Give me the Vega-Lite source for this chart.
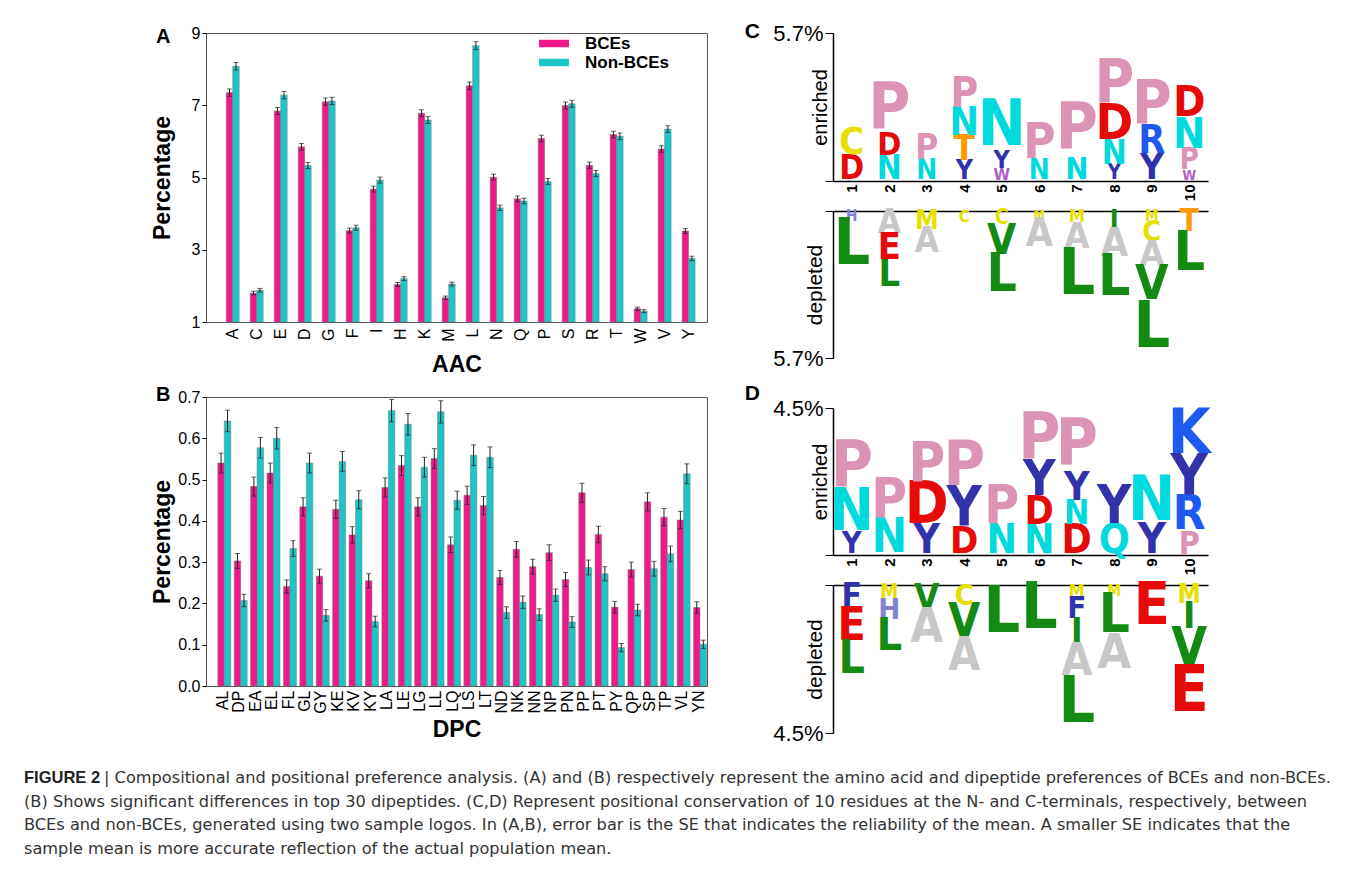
{
  "$schema": "https://vega.github.io/schema/vega-lite/v6.json",
  "background": "white",
  "padding": {"left": 24, "top": 21, "right": 0, "bottom": 0},
  "config": {
    "font": "Liberation Sans",
    "view": {"stroke": null},
    "axis": {"labelColor": "#000", "titleColor": "#000", "domainColor": "#000", "tickColor": "#000", "labelFont": "Liberation Sans", "titleFont": "Liberation Sans", "grid": false},
    "title": {"color": "#000", "font": "Liberation Sans"}
  },
  "datasets": {
    "aac": [
      {"aa":"A","group":"BCEs","v":7.35,"se":0.10},{"aa":"A","group":"Non-BCEs","v":8.08,"se":0.105},
      {"aa":"C","group":"BCEs","v":1.80,"se":0.05},{"aa":"C","group":"Non-BCEs","v":1.88,"se":0.05},
      {"aa":"E","group":"BCEs","v":6.84,"se":0.097},{"aa":"E","group":"Non-BCEs","v":7.28,"se":0.10},
      {"aa":"D","group":"BCEs","v":5.85,"se":0.09},{"aa":"D","group":"Non-BCEs","v":5.33,"se":0.085},
      {"aa":"G","group":"BCEs","v":7.10,"se":0.099},{"aa":"G","group":"Non-BCEs","v":7.12,"se":0.099},
      {"aa":"F","group":"BCEs","v":3.53,"se":0.07},{"aa":"F","group":"Non-BCEs","v":3.61,"se":0.07},
      {"aa":"I","group":"BCEs","v":4.68,"se":0.08},{"aa":"I","group":"Non-BCEs","v":4.93,"se":0.082},
      {"aa":"H","group":"BCEs","v":2.04,"se":0.053},{"aa":"H","group":"Non-BCEs","v":2.20,"se":0.055},
      {"aa":"K","group":"BCEs","v":6.78,"se":0.096},{"aa":"K","group":"Non-BCEs","v":6.59,"se":0.095},
      {"aa":"M","group":"BCEs","v":1.67,"se":0.048},{"aa":"M","group":"Non-BCEs","v":2.05,"se":0.053},
      {"aa":"L","group":"BCEs","v":7.54,"se":0.10},{"aa":"L","group":"Non-BCEs","v":8.65,"se":0.109},
      {"aa":"N","group":"BCEs","v":5.01,"se":0.083},{"aa":"N","group":"Non-BCEs","v":4.16,"se":0.075},
      {"aa":"Q","group":"BCEs","v":4.41,"se":0.078},{"aa":"Q","group":"Non-BCEs","v":4.35,"se":0.077},
      {"aa":"P","group":"BCEs","v":6.08,"se":0.091},{"aa":"P","group":"Non-BCEs","v":4.89,"se":0.082},
      {"aa":"S","group":"BCEs","v":6.99,"se":0.098},{"aa":"S","group":"Non-BCEs","v":7.04,"se":0.098},
      {"aa":"R","group":"BCEs","v":5.34,"se":0.085},{"aa":"R","group":"Non-BCEs","v":5.11,"se":0.084},
      {"aa":"T","group":"BCEs","v":6.19,"se":0.092},{"aa":"T","group":"Non-BCEs","v":6.14,"se":0.092},
      {"aa":"W","group":"BCEs","v":1.37,"se":0.043},{"aa":"W","group":"Non-BCEs","v":1.30,"se":0.042},
      {"aa":"V","group":"BCEs","v":5.79,"se":0.089},{"aa":"V","group":"Non-BCEs","v":6.34,"se":0.093},
      {"aa":"Y","group":"BCEs","v":3.52,"se":0.069},{"aa":"Y","group":"Non-BCEs","v":2.76,"se":0.061}
    ],
    "dpc": [
      {"dp":"AL","group":"BCEs","v":0.540,"se":0.024},{"dp":"AL","group":"Non-BCEs","v":0.642,"se":0.026},
      {"dp":"DP","group":"BCEs","v":0.303,"se":0.018},{"dp":"DP","group":"Non-BCEs","v":0.207,"se":0.015},
      {"dp":"EA","group":"BCEs","v":0.483,"se":0.023},{"dp":"EA","group":"Non-BCEs","v":0.577,"se":0.025},
      {"dp":"EL","group":"BCEs","v":0.516,"se":0.024},{"dp":"EL","group":"Non-BCEs","v":0.600,"se":0.026},
      {"dp":"FL","group":"BCEs","v":0.241,"se":0.016},{"dp":"FL","group":"Non-BCEs","v":0.333,"se":0.019},
      {"dp":"GL","group":"BCEs","v":0.434,"se":0.022},{"dp":"GL","group":"Non-BCEs","v":0.540,"se":0.024},
      {"dp":"GY","group":"BCEs","v":0.266,"se":0.017},{"dp":"GY","group":"Non-BCEs","v":0.171,"se":0.014},
      {"dp":"KE","group":"BCEs","v":0.428,"se":0.022},{"dp":"KE","group":"Non-BCEs","v":0.544,"se":0.024},
      {"dp":"KV","group":"BCEs","v":0.366,"se":0.020},{"dp":"KV","group":"Non-BCEs","v":0.451,"se":0.022},
      {"dp":"KY","group":"BCEs","v":0.255,"se":0.017},{"dp":"KY","group":"Non-BCEs","v":0.156,"se":0.013},
      {"dp":"LA","group":"BCEs","v":0.481,"se":0.023},{"dp":"LA","group":"Non-BCEs","v":0.667,"se":0.027},
      {"dp":"LE","group":"BCEs","v":0.534,"se":0.024},{"dp":"LE","group":"Non-BCEs","v":0.634,"se":0.026},
      {"dp":"LG","group":"BCEs","v":0.434,"se":0.022},{"dp":"LG","group":"Non-BCEs","v":0.530,"se":0.024},
      {"dp":"LL","group":"BCEs","v":0.551,"se":0.024},{"dp":"LL","group":"Non-BCEs","v":0.664,"se":0.027},
      {"dp":"LQ","group":"BCEs","v":0.342,"se":0.019},{"dp":"LQ","group":"Non-BCEs","v":0.450,"se":0.022},
      {"dp":"LS","group":"BCEs","v":0.462,"se":0.022},{"dp":"LS","group":"Non-BCEs","v":0.559,"se":0.025},
      {"dp":"LT","group":"BCEs","v":0.437,"se":0.022},{"dp":"LT","group":"Non-BCEs","v":0.554,"se":0.025},
      {"dp":"ND","group":"BCEs","v":0.263,"se":0.017},{"dp":"ND","group":"Non-BCEs","v":0.178,"se":0.014},
      {"dp":"NK","group":"BCEs","v":0.331,"se":0.019},{"dp":"NK","group":"Non-BCEs","v":0.203,"se":0.015},
      {"dp":"NN","group":"BCEs","v":0.289,"se":0.018},{"dp":"NN","group":"Non-BCEs","v":0.173,"se":0.014},
      {"dp":"NP","group":"BCEs","v":0.323,"se":0.019},{"dp":"NP","group":"Non-BCEs","v":0.220,"se":0.015},
      {"dp":"PN","group":"BCEs","v":0.258,"se":0.017},{"dp":"PN","group":"Non-BCEs","v":0.155,"se":0.013},
      {"dp":"PP","group":"BCEs","v":0.468,"se":0.023},{"dp":"PP","group":"Non-BCEs","v":0.287,"se":0.018},
      {"dp":"PT","group":"BCEs","v":0.367,"se":0.020},{"dp":"PT","group":"Non-BCEs","v":0.272,"se":0.017},
      {"dp":"PY","group":"BCEs","v":0.191,"se":0.014},{"dp":"PY","group":"Non-BCEs","v":0.093,"se":0.010},
      {"dp":"QP","group":"BCEs","v":0.282,"se":0.018},{"dp":"QP","group":"Non-BCEs","v":0.184,"se":0.014},
      {"dp":"SP","group":"BCEs","v":0.446,"se":0.022},{"dp":"SP","group":"Non-BCEs","v":0.284,"se":0.018},
      {"dp":"TP","group":"BCEs","v":0.409,"se":0.021},{"dp":"TP","group":"Non-BCEs","v":0.320,"se":0.019},
      {"dp":"VL","group":"BCEs","v":0.402,"se":0.021},{"dp":"VL","group":"Non-BCEs","v":0.514,"se":0.024},
      {"dp":"YN","group":"BCEs","v":0.190,"se":0.014},{"dp":"YN","group":"Non-BCEs","v":0.101,"se":0.010}
    ],
    "logo": [
      {"panel":"C","side":"enr","pos":1,"letter":"D","mid":0.46,"h":0.92},
      {"panel":"C","side":"enr","pos":1,"letter":"C","mid":1.45,"h":1.04},
      {"panel":"C","side":"enr","pos":2,"letter":"N","mid":0.46,"h":0.92},
      {"panel":"C","side":"enr","pos":2,"letter":"D","mid":1.37,"h":0.89},
      {"panel":"C","side":"enr","pos":2,"letter":"P","mid":2.77,"h":1.93},
      {"panel":"C","side":"enr","pos":3,"letter":"N","mid":0.39,"h":0.77},
      {"panel":"C","side":"enr","pos":3,"letter":"P","mid":1.25,"h":0.96},
      {"panel":"C","side":"enr","pos":4,"letter":"Y","mid":0.37,"h":0.73},
      {"panel":"C","side":"enr","pos":4,"letter":"T","mid":1.21,"h":0.96},
      {"panel":"C","side":"enr","pos":4,"letter":"N","mid":2.23,"h":1.08},
      {"panel":"C","side":"enr","pos":4,"letter":"P","mid":3.35,"h":1.16},
      {"panel":"C","side":"enr","pos":5,"letter":"W","mid":0.23,"h":0.46},
      {"panel":"C","side":"enr","pos":5,"letter":"Y","mid":0.81,"h":0.69},
      {"panel":"C","side":"enr","pos":5,"letter":"N","mid":2.12,"h":1.93},
      {"panel":"C","side":"enr","pos":6,"letter":"N","mid":0.39,"h":0.77},
      {"panel":"C","side":"enr","pos":6,"letter":"P","mid":1.45,"h":1.35},
      {"panel":"C","side":"enr","pos":7,"letter":"N","mid":0.42,"h":0.85},
      {"panel":"C","side":"enr","pos":7,"letter":"P","mid":2.02,"h":2.35},
      {"panel":"C","side":"enr","pos":8,"letter":"Y","mid":0.29,"h":0.58},
      {"panel":"C","side":"enr","pos":8,"letter":"N","mid":1.04,"h":0.92},
      {"panel":"C","side":"enr","pos":8,"letter":"D","mid":2.20,"h":1.39},
      {"panel":"C","side":"enr","pos":8,"letter":"P","mid":3.72,"h":1.66},
      {"panel":"C","side":"enr","pos":9,"letter":"Y","mid":0.50,"h":1.00},
      {"panel":"C","side":"enr","pos":9,"letter":"R","mid":1.54,"h":1.08},
      {"panel":"C","side":"enr","pos":9,"letter":"P","mid":2.91,"h":1.66},
      {"panel":"C","side":"enr","pos":10,"letter":"W","mid":0.19,"h":0.39},
      {"panel":"C","side":"enr","pos":10,"letter":"P","mid":0.79,"h":0.81},
      {"panel":"C","side":"enr","pos":10,"letter":"N","mid":1.79,"h":1.19},
      {"panel":"C","side":"enr","pos":10,"letter":"D","mid":2.99,"h":1.19},
      {"panel":"C","side":"dep","pos":1,"letter":"H","mid":0.21,"h":0.42},
      {"panel":"C","side":"dep","pos":1,"letter":"L","mid":1.33,"h":1.81},
      {"panel":"C","side":"dep","pos":2,"letter":"A","mid":0.46,"h":0.92},
      {"panel":"C","side":"dep","pos":2,"letter":"E","mid":1.45,"h":1.04},
      {"panel":"C","side":"dep","pos":2,"letter":"L","mid":2.49,"h":1.04},
      {"panel":"C","side":"dep","pos":3,"letter":"M","mid":0.37,"h":0.73},
      {"panel":"C","side":"dep","pos":3,"letter":"A","mid":1.21,"h":0.96},
      {"panel":"C","side":"dep","pos":4,"letter":"C","mid":0.23,"h":0.46},
      {"panel":"C","side":"dep","pos":5,"letter":"C","mid":0.29,"h":0.58},
      {"panel":"C","side":"dep","pos":5,"letter":"V","mid":1.16,"h":1.16},
      {"panel":"C","side":"dep","pos":5,"letter":"L","mid":2.47,"h":1.46},
      {"panel":"C","side":"dep","pos":6,"letter":"M","mid":0.17,"h":0.35},
      {"panel":"C","side":"dep","pos":6,"letter":"A","mid":0.89,"h":1.08},
      {"panel":"C","side":"dep","pos":7,"letter":"M","mid":0.25,"h":0.50},
      {"panel":"C","side":"dep","pos":7,"letter":"A","mid":1.00,"h":1.00},
      {"panel":"C","side":"dep","pos":7,"letter":"L","mid":2.49,"h":1.97},
      {"panel":"C","side":"dep","pos":8,"letter":"I","mid":0.37,"h":0.73},
      {"panel":"C","side":"dep","pos":8,"letter":"A","mid":1.28,"h":1.10},
      {"panel":"C","side":"dep","pos":8,"letter":"L","mid":2.61,"h":1.56},
      {"panel":"C","side":"dep","pos":9,"letter":"M","mid":0.21,"h":0.42},
      {"panel":"C","side":"dep","pos":9,"letter":"C","mid":0.82,"h":0.79},
      {"panel":"C","side":"dep","pos":9,"letter":"A","mid":1.71,"h":1.00},
      {"panel":"C","side":"dep","pos":9,"letter":"V","mid":2.88,"h":1.33},
      {"panel":"C","side":"dep","pos":9,"letter":"L","mid":4.53,"h":1.97},
      {"panel":"C","side":"dep","pos":10,"letter":"T","mid":0.43,"h":0.87},
      {"panel":"C","side":"dep","pos":10,"letter":"L","mid":1.63,"h":1.52},
      {"panel":"D","side":"enr","pos":1,"letter":"Y","mid":0.34,"h":0.67},
      {"panel":"D","side":"enr","pos":1,"letter":"N","mid":1.32,"h":1.29},
      {"panel":"D","side":"enr","pos":1,"letter":"P","mid":2.68,"h":1.44},
      {"panel":"D","side":"enr","pos":2,"letter":"N","mid":0.52,"h":1.04},
      {"panel":"D","side":"enr","pos":2,"letter":"P","mid":1.64,"h":1.19},
      {"panel":"D","side":"enr","pos":3,"letter":"Y","mid":0.44,"h":0.89},
      {"panel":"D","side":"enr","pos":3,"letter":"D","mid":1.53,"h":1.29},
      {"panel":"D","side":"enr","pos":3,"letter":"P","mid":2.79,"h":1.22},
      {"panel":"D","side":"enr","pos":4,"letter":"D","mid":0.41,"h":0.83},
      {"panel":"D","side":"enr","pos":4,"letter":"Y","mid":1.42,"h":1.19},
      {"panel":"D","side":"enr","pos":4,"letter":"P","mid":2.71,"h":1.38},
      {"panel":"D","side":"enr","pos":5,"letter":"N","mid":0.44,"h":0.89},
      {"panel":"D","side":"enr","pos":5,"letter":"P","mid":1.47,"h":1.16},
      {"panel":"D","side":"enr","pos":6,"letter":"N","mid":0.44,"h":0.89},
      {"panel":"D","side":"enr","pos":6,"letter":"D","mid":1.32,"h":0.86},
      {"panel":"D","side":"enr","pos":6,"letter":"Y","mid":2.30,"h":1.10},
      {"panel":"D","side":"enr","pos":6,"letter":"P","mid":3.55,"h":1.41},
      {"panel":"D","side":"enr","pos":7,"letter":"D","mid":0.44,"h":0.89},
      {"panel":"D","side":"enr","pos":7,"letter":"N","mid":1.26,"h":0.74},
      {"panel":"D","side":"enr","pos":7,"letter":"Y","mid":2.05,"h":0.86},
      {"panel":"D","side":"enr","pos":7,"letter":"P","mid":3.38,"h":1.81},
      {"panel":"D","side":"enr","pos":8,"letter":"Q","mid":0.44,"h":0.89},
      {"panel":"D","side":"enr","pos":8,"letter":"Y","mid":1.47,"h":1.16},
      {"panel":"D","side":"enr","pos":9,"letter":"Y","mid":0.47,"h":0.95},
      {"panel":"D","side":"enr","pos":9,"letter":"N","mid":1.64,"h":1.38},
      {"panel":"D","side":"enr","pos":10,"letter":"P","mid":0.35,"h":0.70},
      {"panel":"D","side":"enr","pos":10,"letter":"R","mid":1.22,"h":1.04},
      {"panel":"D","side":"enr","pos":10,"letter":"Y","mid":2.37,"h":1.26},
      {"panel":"D","side":"enr","pos":10,"letter":"K","mid":3.67,"h":1.35},
      {"panel":"D","side":"dep","pos":1,"letter":"F","mid":0.37,"h":0.73},
      {"panel":"D","side":"dep","pos":1,"letter":"E","mid":1.24,"h":1.01},
      {"panel":"D","side":"dep","pos":1,"letter":"L","mid":2.25,"h":1.01},
      {"panel":"D","side":"dep","pos":2,"letter":"M","mid":0.23,"h":0.45},
      {"panel":"D","side":"dep","pos":2,"letter":"H","mid":0.77,"h":0.64},
      {"panel":"D","side":"dep","pos":2,"letter":"L","mid":1.58,"h":0.98},
      {"panel":"D","side":"dep","pos":3,"letter":"V","mid":0.39,"h":0.79},
      {"panel":"D","side":"dep","pos":3,"letter":"A","mid":1.31,"h":1.04},
      {"panel":"D","side":"dep","pos":4,"letter":"C","mid":0.32,"h":0.63},
      {"panel":"D","side":"dep","pos":4,"letter":"V","mid":1.14,"h":1.02},
      {"panel":"D","side":"dep","pos":4,"letter":"A","mid":2.16,"h":1.01},
      {"panel":"D","side":"dep","pos":5,"letter":"L","mid":0.86,"h":1.71},
      {"panel":"D","side":"dep","pos":6,"letter":"L","mid":0.73,"h":1.47},
      {"panel":"D","side":"dep","pos":7,"letter":"M","mid":0.20,"h":0.40},
      {"panel":"D","side":"dep","pos":7,"letter":"F","mid":0.74,"h":0.68},
      {"panel":"D","side":"dep","pos":7,"letter":"I","mid":1.46,"h":0.76},
      {"panel":"D","side":"dep","pos":7,"letter":"A","mid":2.33,"h":0.98},
      {"panel":"D","side":"dep","pos":7,"letter":"L","mid":3.60,"h":1.56},
      {"panel":"D","side":"dep","pos":8,"letter":"M","mid":0.17,"h":0.34},
      {"panel":"D","side":"dep","pos":8,"letter":"L","mid":0.93,"h":1.19},
      {"panel":"D","side":"dep","pos":8,"letter":"A","mid":2.07,"h":1.07},
      {"panel":"D","side":"dep","pos":9,"letter":"E","mid":0.64,"h":1.29},
      {"panel":"D","side":"dep","pos":10,"letter":"M","mid":0.29,"h":0.57},
      {"panel":"D","side":"dep","pos":10,"letter":"I","mid":0.98,"h":0.81},
      {"panel":"D","side":"dep","pos":10,"letter":"V","mid":1.94,"h":1.13},
      {"panel":"D","side":"dep","pos":10,"letter":"E","mid":3.25,"h":1.47}
    ],
    "caption": [
      {"line":1,"seg":"head","text":"FIGURE 2"},
      {"line":1,"seg":"body1","text":"| Compositional and positional preference analysis. (A) and (B) respectively represent the amino acid and dipeptide preferences of BCEs and non-BCEs."},
      {"line":2,"seg":"body","text":"(B) Shows significant differences in top 30 dipeptides. (C,D) Represent positional conservation of 10 residues at the N- and C-terminals, respectively, between"},
      {"line":3,"seg":"body","text":"BCEs and non-BCEs, generated using two sample logos. In (A,B), error bar is the SE that indicates the reliability of the mean. A smaller SE indicates that the"},
      {"line":4,"seg":"body","text":"sample mean is more accurate reflection of the actual population mean."}
    ]
  },
  "spacing": 26,
  "vconcat": [
    {
      "spacing": 0,
      "hconcat": [
        {"width": 126, "height": 1, "data": {"values": []}, "mark": "point"},
        {
          "spacing": 36,
          "resolve": {"scale": {"color": "independent", "size": "independent"}, "legend": {"color": "independent", "size": "independent"}},
          "hconcat": [
            {
              "spacing": 7,
              "vconcat": [
                {
                  "width": 501, "height": 289,
                  "view": {"stroke": "#555", "strokeWidth": 1},
                  "title": {"text": "A", "anchor": "start", "frame": "bounds", "fontSize": 20, "fontWeight": "bold", "offset": -38, "baseline": "alphabetic", "dx": 5},
                  "data": {"name": "aac"},
                  "encoding": {
                    "x": {"field": "aa", "type": "nominal", "sort": null,
                      "scale": {"paddingInner": 0.46, "paddingOuter": 0.67, "align": 0.63},
                      "axis": {"labelAngle": -90, "labelFontSize": 16, "ticks": false, "domain": false, "labelPadding": 6, "title": "AAC", "titleFontSize": 23, "titleFontWeight": "bold", "titleBaseline": "alphabetic", "titleY": 49}},
                    "xOffset": {"field": "group", "type": "nominal", "sort": ["BCEs", "Non-BCEs"]}
                  },
                  "layer": [
                    {
                      "mark": {"type": "bar", "stroke": "#777", "strokeWidth": 0.5},
                      "encoding": {
                        "y": {"field": "v", "type": "quantitative", "title": "Percentage", "scale": {"domain": [1, 9], "nice": false, "zero": false},
                          "axis": {"values": [1, 2, 3, 4, 5, 6, 7, 8, 9], "labelExpr": "datum.value % 2 == 1 ? datum.label : ''", "labelFontSize": 16, "tickSize": 4, "domain": false, "titleFontSize": 23, "titleFontWeight": "bold", "titleBaseline": "alphabetic", "titleX": -37}},
                        "y2": {"datum": 1},
                        "color": {"field": "group", "type": "nominal",
                          "scale": {"domain": ["BCEs", "Non-BCEs"], "range": ["#F0198C", "#1DC6C6"]},
                          "legend": {"title": null, "orient": "none", "legendX": 339.5, "legendY": 2, "symbolType": "M-2,-0.5H2V0.5H-2Z", "symbolSize": 225, "symbolStrokeWidth": 0, "symbolOpacity": 1, "labelFontSize": 17, "labelFontWeight": "bold", "labelColor": "#000", "labelOffset": 22.5, "rowPadding": 1}}
                      }
                    },
                    {
                      "mark": {"type": "errorbar", "ticks": {"size": 5}, "color": "#222"},
                      "encoding": {"y": {"field": "v", "type": "quantitative", "title": "Percentage"}, "yError": {"field": "se"}}
                    }
                  ]
                },
                {
                  "width": 501, "height": 289,
                  "view": {"stroke": "#555", "strokeWidth": 1},
                  "title": {"text": "B", "anchor": "start", "frame": "bounds", "fontSize": 20, "fontWeight": "bold", "offset": -32, "baseline": "alphabetic", "dx": 5},
                  "data": {"name": "dpc"},
                  "encoding": {
                    "x": {"field": "dp", "type": "nominal", "sort": null,
                      "scale": {"paddingInner": 0.36, "paddingOuter": 0.45, "align": 0.8},
                      "axis": {"labelAngle": -90, "labelFontSize": 16, "ticks": false, "domain": false, "labelPadding": 4, "title": "DPC", "titleFontSize": 23, "titleFontWeight": "bold", "titleBaseline": "alphabetic", "titleY": 50}},
                    "xOffset": {"field": "group", "type": "nominal", "sort": ["BCEs", "Non-BCEs"]}
                  },
                  "layer": [
                    {
                      "mark": {"type": "bar", "stroke": "#777", "strokeWidth": 0.5},
                      "encoding": {
                        "y": {"field": "v", "type": "quantitative", "title": "Percentage", "scale": {"domain": [0, 0.7], "nice": false},
                          "axis": {"values": [0, 0.1, 0.2, 0.3, 0.4, 0.5, 0.6, 0.7], "format": ".1f", "labelFontSize": 16, "tickSize": 4, "domain": false, "titleFontSize": 23, "titleFontWeight": "bold", "titleBaseline": "alphabetic", "titleX": -37}},
                        "color": {"field": "group", "type": "nominal",
                          "scale": {"domain": ["BCEs", "Non-BCEs"], "range": ["#F0198C", "#1DC6C6"]}, "legend": null}
                      }
                    },
                    {
                      "mark": {"type": "errorbar", "ticks": {"size": 5}, "color": "#222"},
                      "encoding": {"y": {"field": "v", "type": "quantitative", "title": "Percentage"}, "yError": {"field": "se"}}
                    }
                  ]
                }
              ]
            },
            {
              "spacing": 14,
              "resolve": {"scale": {"color": "independent", "size": "independent"}, "legend": {"color": "independent", "size": "independent"}},
              "vconcat": [
                {
                  "width": 375, "height": 325,
                  "title": {"text": "C", "anchor": "start", "frame": "bounds", "fontSize": 21, "fontWeight": "bold", "offset": -37, "baseline": "alphabetic", "dx": -28},
                  "data": {"name": "logo"},
                  "transform": [{"filter": "datum.panel == 'C'"}],
                  "encoding": {
                    "text": {"field": "letter"},
                    "color": {"field": "letter", "type": "nominal",
                      "scale": {"domain": ["A","C","D","E","F","H","I","K","L","M","N","P","Q","R","T","V","W","Y"],
                                "range": ["#C8C8C8","#E6E000","#E60A0A","#E60A0A","#3232AA","#8282D2","#148A14","#1E5AF0","#148A14","#E6E000","#00DADC","#DB94B6","#00DADC","#1E5AF0","#FF9900","#148A14","#B060C8","#3232AA"]},
                      "legend": null},
                    "size": {"field": "h", "type": "quantitative", "scale": {"domain": [0, 1.765], "range": [0, 64], "clamp": true}, "legend": null}
                  },
                  "resolve": {"scale": {"x": "independent", "y": "independent"}, "axis": {"x": "independent", "y": "independent"}},
                  "layer": [
                    {
                      "transform": [{"filter": "datum.side == 'enr'"}],
                      "mark": {"type": "text", "font": "Liberation Sans Narrow, DejaVu Sans Condensed, Liberation Sans", "fontWeight": "bold", "baseline": "middle", "align": "center"},
                      "encoding": {
                        "x": {"field": "pos", "type": "ordinal", "scale": {"type": "point", "domain": [1,2,3,4,5,6,7,8,9,10], "padding": 0.5},
                          "axis": {"orient": "bottom", "offset": -177, "labelAngle": -90, "labelFontSize": 15, "labelFontWeight": "bold", "ticks": false, "domainWidth": 1.5, "title": null, "labelPadding": 3}},
                        "y": {"field": "mid", "type": "quantitative", "scale": {"domain": [0, 5.7], "nice": false, "range": [148, 0]},
                          "axis": {"orient": "left", "values": [0, 5.7], "labelExpr": "datum.value > 0 ? '5.7%' : ''", "labelFontSize": 22, "tickSize": 8, "domainWidth": 1.5, "labelPadding": 2, "title": "enriched", "titleFontSize": 20, "titleFontWeight": "normal", "titleBaseline": "alphabetic", "titleX": -7}}
                      }
                    },
                    {
                      "transform": [{"filter": "datum.side == 'dep'"}],
                      "mark": {"type": "text", "font": "Liberation Sans Narrow, DejaVu Sans Condensed, Liberation Sans", "fontWeight": "bold", "baseline": "middle", "align": "center"},
                      "encoding": {
                        "x": {"field": "pos", "type": "ordinal", "scale": {"type": "point", "domain": [1,2,3,4,5,6,7,8,9,10], "padding": 0.5},
                          "axis": {"orient": "top", "offset": -178, "labels": false, "ticks": false, "domainWidth": 1.5, "title": null}},
                        "y": {"field": "mid", "type": "quantitative", "scale": {"domain": [0, 5.7], "nice": false, "range": [178, 325]},
                          "axis": {"orient": "left", "values": [0, 5.7], "labelExpr": "datum.value > 0 ? '5.7%' : ''", "labelFontSize": 22, "tickSize": 8, "domainWidth": 1.5, "labelPadding": 2, "title": "depleted", "titleFontSize": 21, "titleFontWeight": "normal", "titleBaseline": "alphabetic", "titleX": -12}}
                      }
                    }
                  ]
                },
                {
                  "width": 375, "height": 325,
                  "title": {"text": "D", "anchor": "start", "frame": "bounds", "fontSize": 21, "fontWeight": "bold", "offset": -24, "baseline": "alphabetic", "dx": -28},
                  "data": {"name": "logo"},
                  "transform": [{"filter": "datum.panel == 'D'"}],
                  "encoding": {
                    "text": {"field": "letter"},
                    "color": {"field": "letter", "type": "nominal",
                      "scale": {"domain": ["A","C","D","E","F","H","I","K","L","M","N","P","Q","R","T","V","W","Y"],
                                "range": ["#C8C8C8","#E6E000","#E60A0A","#E60A0A","#3232AA","#8282D2","#148A14","#1E5AF0","#148A14","#E6E000","#00DADC","#DB94B6","#00DADC","#1E5AF0","#FF9900","#148A14","#B060C8","#3232AA"]},
                      "legend": null},
                    "size": {"field": "h", "type": "quantitative", "scale": {"domain": [0, 1.403], "range": [0, 64], "clamp": true}, "legend": null}
                  },
                  "resolve": {"scale": {"x": "independent", "y": "independent"}, "axis": {"x": "independent", "y": "independent"}},
                  "layer": [
                    {
                      "transform": [{"filter": "datum.side == 'enr'"}],
                      "mark": {"type": "text", "font": "Liberation Sans Narrow, DejaVu Sans Condensed, Liberation Sans", "fontWeight": "bold", "baseline": "middle", "align": "center"},
                      "encoding": {
                        "x": {"field": "pos", "type": "ordinal", "scale": {"type": "point", "domain": [1,2,3,4,5,6,7,8,9,10], "padding": 0.5},
                          "axis": {"orient": "bottom", "offset": -178, "labelAngle": -90, "labelFontSize": 15, "labelFontWeight": "bold", "ticks": false, "domainWidth": 1.5, "title": null, "labelPadding": 3}},
                        "y": {"field": "mid", "type": "quantitative", "scale": {"domain": [0, 4.5], "nice": false, "range": [147, 0]},
                          "axis": {"orient": "left", "values": [0, 4.5], "labelExpr": "datum.value > 0 ? '4.5%' : ''", "labelFontSize": 22, "tickSize": 8, "domainWidth": 1.5, "labelPadding": 2, "title": "enriched", "titleFontSize": 20, "titleFontWeight": "normal", "titleBaseline": "alphabetic", "titleX": -7}}
                      }
                    },
                    {
                      "transform": [{"filter": "datum.side == 'dep'"}],
                      "mark": {"type": "text", "font": "Liberation Sans Narrow, DejaVu Sans Condensed, Liberation Sans", "fontWeight": "bold", "baseline": "middle", "align": "center"},
                      "encoding": {
                        "x": {"field": "pos", "type": "ordinal", "scale": {"type": "point", "domain": [1,2,3,4,5,6,7,8,9,10], "padding": 0.5},
                          "axis": {"orient": "top", "offset": -177, "labels": false, "ticks": false, "domainWidth": 1.5, "title": null}},
                        "y": {"field": "mid", "type": "quantitative", "scale": {"domain": [0, 4.5], "nice": false, "range": [177, 325]},
                          "axis": {"orient": "left", "values": [0, 4.5], "labelExpr": "datum.value > 0 ? '4.5%' : ''", "labelFontSize": 22, "tickSize": 8, "domainWidth": 1.5, "labelPadding": 2, "title": "depleted", "titleFontSize": 21, "titleFontWeight": "normal", "titleBaseline": "alphabetic", "titleX": -12}}
                      }
                    }
                  ]
                }
              ]
            }
          ]
        }
      ]
    },
    {
      "width": 1306, "height": 71,
      "data": {"name": "caption"},
      "encoding": {
        "y": {"field": "line", "type": "ordinal", "scale": {"type": "point", "padding": 0}, "axis": null},
        "x": {"datum": 0, "type": "quantitative", "scale": {"domain": [0, 1]}, "axis": null}
      },
      "layer": [
        {"transform": [{"filter": "datum.seg == 'head'"}],
         "mark": {"type": "text", "align": "left", "baseline": "alphabetic", "font": "Liberation Sans", "fontSize": 16.5, "fontWeight": "bold", "color": "#222"},
         "encoding": {"text": {"field": "text"}}},
        {"transform": [{"filter": "datum.seg == 'body1'"}],
         "mark": {"type": "text", "align": "left", "baseline": "alphabetic", "font": "DejaVu Sans", "fontSize": 16.2, "color": "#333", "dx": 80},
         "encoding": {"text": {"field": "text"}}},
        {"transform": [{"filter": "datum.seg == 'body'"}],
         "mark": {"type": "text", "align": "left", "baseline": "alphabetic", "font": "DejaVu Sans", "fontSize": 16.2, "color": "#333"},
         "encoding": {"text": {"field": "text"}}}
      ]
    }
  ]
}
